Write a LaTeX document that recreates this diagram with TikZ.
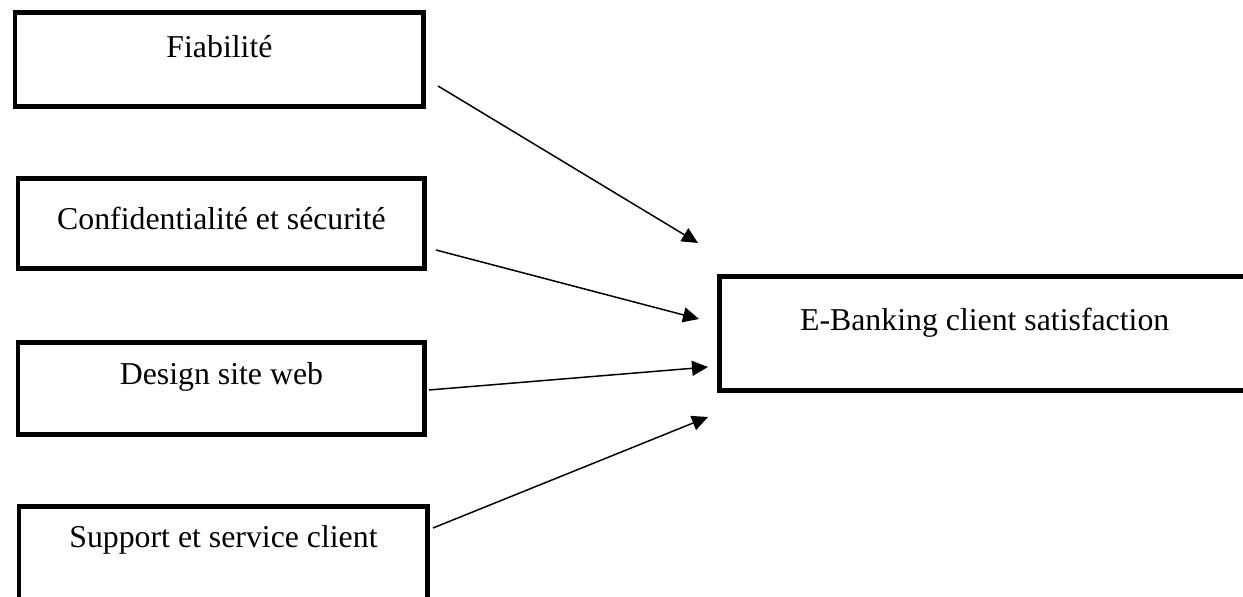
\documentclass[tikz,border=0pt]{standalone}
\usepackage{fontspec}
\setmainfont{Liberation Serif}
\usetikzlibrary{arrows.meta}
\tikzset{
  factor/.style={draw, line width=0.1cm, inner sep=0pt, anchor=north west,
    font=\fontsize{18.1}{22}\selectfont},
  link/.style={draw, line width=0.85pt, -{Triangle[length=0.32cm, width=0.3cm]}},
}

\begin{document}
\begin{tikzpicture}[x=0.02cm, y=-0.02cm]
  \useasboundingbox (0,0) rectangle (1243,597);
  \clip (0,0) rectangle (1243,597);
  % the four factors
  \node[factor, minimum width=8.18cm, text height=0.89cm, text depth=0.99cm] (fia) at (12.5,10.5) {Fiabilité};
  \node[factor, minimum width=8.14cm, text height=1.01cm, text depth=0.79cm] (conf) at (15.5,176.5) {Confidentialité et sécurité};
  \node[factor, minimum width=8.14cm, text height=0.83cm, text depth=1.01cm] (design) at (15.5,340.5) {Design site web};
  \node[factor, minimum width=8.18cm, text height=0.83cm, text depth=1.1cm] (support) at (16.5,503.5) {Support et service client};
  % outcome
  \node[factor, minimum width=10.63cm, text height=1.07cm, text depth=1.21cm] (sat) at (716.5,274.5) {E-Banking client satisfaction};
  \coordinate (fia-out) at (438,86);
  \coordinate (conf-out) at (436,250);
  \coordinate (design-out) at (429,390);
  \coordinate (support-out) at (433,528);
  \coordinate (sat-in1) at (698,243);
  \coordinate (sat-in2) at (699,319);
  \coordinate (sat-in3) at (708,367);
  \coordinate (sat-in4) at (708,417);
  \draw[link] (fia-out) -- (sat-in1);
  \draw[link] (conf-out) -- (sat-in2);
  \draw[link] (design-out) -- (sat-in3);
  \draw[link] (support-out) -- (sat-in4);
\end{tikzpicture}
\end{document}
